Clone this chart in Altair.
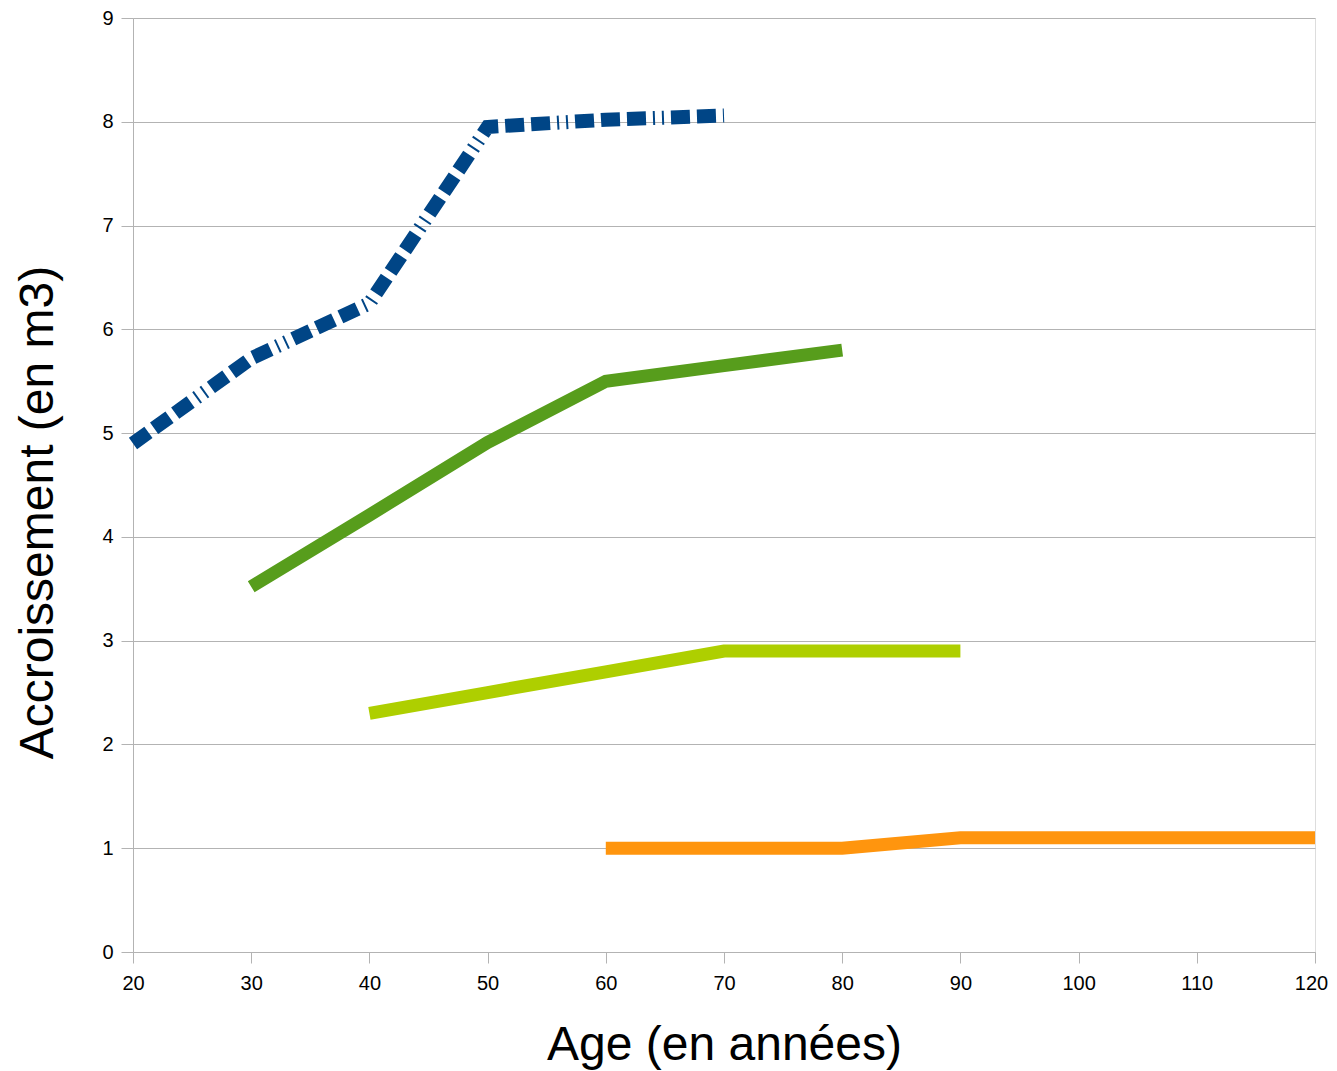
import altair as alt
import pandas as pd

age_blue = [20, 30, 40, 50, 60, 70]
val_blue = [4.9, 5.72, 6.25, 7.95, 8.02, 8.06]
age_dgreen = [30, 40, 50, 60, 70, 80]
val_dgreen = [3.52, 4.21, 4.91, 5.5, 5.65, 5.8]
age_lgreen = [40, 50, 60, 70, 80, 90]
val_lgreen = [2.3, 2.5, 2.7, 2.9, 2.9, 2.9]
age_orange = [60, 70, 80, 90, 100, 110, 120]
val_orange = [1.0, 1.0, 1.0, 1.1, 1.1, 1.1, 1.1]

x_ticks = list(range(20, 121, 10))
y_ticks = list(range(0, 10))

FONT = "Liberation Sans"
GRID = "#b3b3b3"

def df(a, v):
    return pd.DataFrame({"age": a, "val": v})

xs = alt.Scale(domain=[20, 120], nice=False, zero=False)
ys = alt.Scale(domain=[0, 9], nice=False)

x_enc = alt.X("age:Q", scale=xs,
              axis=alt.Axis(values=x_ticks, title="Age (en années)", grid=False,
                            tickSize=11, labelPadding=10, labelFontSize=20, labelFlush=False,
                            labelOffset={"expr": "datum.value == 120 ? -4 : 0"},
                            titleFontSize=48, titleFontWeight="normal",
                            titleY=93, titleBaseline="middle",
                            domainColor=GRID, tickColor=GRID, labelColor="#000000",
                            titleColor="#000000", labelFont=FONT, titleFont=FONT))
y_enc = alt.Y("val:Q", scale=ys,
              axis=alt.Axis(values=y_ticks, title="Accroissement (en m3)", grid=True,
                            gridColor=GRID, tickSize=12, labelPadding=8, labelFontSize=20,
                            labelFlush=False,
                            titleFontSize=48, titleFontWeight="normal",
                            titleX=-95, titleY=494, titleAngle=270,
                            titleAlign="center", titleBaseline="middle",
                            domainColor=GRID, tickColor=GRID, labelColor="#000000",
                            titleColor="#000000", labelFont=FONT, titleFont=FONT))

def line(a, v, color, width, dash=None):
    kw = dict(color=color, strokeWidth=width, strokeCap="butt", strokeJoin="miter", clip=False)
    if dash:
        kw["strokeDash"] = dash
    return alt.Chart(df(a, v)).mark_line(**kw).encode(x=x_enc, y=y_enc)

chart = alt.layer(
    line(age_orange, val_orange, "#ff950e", 13),
    line(age_lgreen, val_lgreen, "#aecf00", 13),
    line(age_dgreen, val_dgreen, "#579d1c", 13),
    line(age_blue, val_blue, "#004586", 14, [19, 7, 19, 7, 19, 7, 2, 7, 2, 7]),
).properties(
    width=1182, height=934,
    autosize=alt.AutoSizeParams(type="none"),
    padding={"left": 125, "top": 10, "right": 14, "bottom": 118},
).configure_view(stroke=GRID, strokeWidth=1).configure(background="white")

chart.save("out.html", embed_options={"renderer": "svg", "actions": False})
